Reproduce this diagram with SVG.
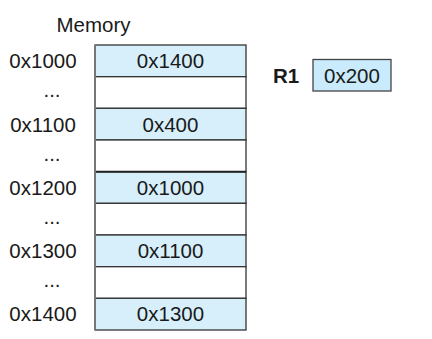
<svg xmlns="http://www.w3.org/2000/svg" width="432" height="339" viewBox="0 0 432 339">
<style>
text{font-family:"Liberation Sans",Arial,sans-serif;font-size:20.5px;fill:#1a1a1a;text-anchor:middle}
.cell{stroke:#333;stroke-width:1.3}
.val{fill:#d6effa}
.empty{fill:#fff}
.r1{fill:#c9ebfb;stroke:#444;stroke-width:1.3}
</style>
<rect width="432" height="339" fill="#fff"/>
<text x="93.5" y="32">Memory</text>
<g id="mem">
<g id="row0"><rect class="cell val" x="95" y="45" width="151" height="31.7"/><text x="170.5" y="68">0x1400</text><text x="43" y="68">0x1000</text></g>
<g id="row1"><rect class="cell empty" x="95" y="76.7" width="151" height="31.7"/><text x="52" y="97">...</text></g>
<g id="row2"><rect class="cell val" x="95" y="108.3" width="151" height="31.7"/><text x="170.5" y="132">0x400</text><text x="43" y="132">0x1100</text></g>
<g id="row3"><rect class="cell empty" x="95" y="140" width="151" height="31.7"/><text x="52" y="161">...</text></g>
<g id="row4"><rect class="cell val" x="95" y="171.7" width="151" height="31.7"/><text x="170.5" y="195">0x1000</text><text x="43" y="195">0x1200</text></g>
<g id="row5"><rect class="cell empty" x="95" y="203.3" width="151" height="31.7"/><text x="52" y="224">...</text></g>
<g id="row6"><rect class="cell val" x="95" y="235" width="151" height="31.7"/><text x="170.5" y="258">0x1100</text><text x="43" y="258">0x1300</text></g>
<g id="row7"><rect class="cell empty" x="95" y="266.7" width="151" height="31.7"/><text x="52" y="287">...</text></g>
<g id="row8"><rect class="cell val" x="95" y="298.3" width="151" height="31.7"/><text x="170.5" y="321">0x1300</text><text x="43" y="321">0x1400</text></g>
<line x1="95" y1="171.7" x2="246" y2="171.7" stroke="#222" stroke-width="2"/>
<line x1="95" y1="45" x2="95" y2="330" stroke="#777" stroke-width="2"/>
</g>
<g id="r1">
<text x="286" y="83" style="font-weight:bold">R1</text>
<rect class="r1" x="313" y="59.5" width="78" height="31.5"/>
<text x="352" y="83">0x200</text>
</g>
<g id="connectors"></g>
</svg>
